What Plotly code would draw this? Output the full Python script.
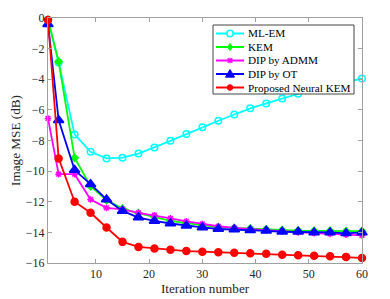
import plotly.graph_objects as go

iters = [1, 3, 6, 9, 12, 15, 18, 21, 24, 27, 30, 33, 36, 39, 42, 45, 48, 51, 54, 57, 60]

ml_em = [-0.13, -2.9, -7.6, -8.74, -9.17, -9.12, -8.85, -8.45, -8.02, -7.58, -7.13, -6.71, -6.3, -5.9,
         -5.58, -5.25, -4.95, -4.65, -4.4, -4.15, -3.95]
kem = [-0.1, -2.85, -9.13, -10.98, -11.9, -12.45, -12.75, -13.0, -13.25, -13.4, -13.55, -13.65, -13.7,
       -13.75, -13.8, -13.85, -13.88, -13.9, -13.9, -13.92, -13.92]
dip_admm = [-6.56, -10.2, -10.2, -11.85, -12.4, -12.5, -12.72, -12.88, -13.08, -13.28, -13.45, -13.6,
            -13.7, -13.8, -13.86, -13.92, -14.0, -14.05, -14.1, -14.15, -14.2]
dip_ot = [-0.4, -6.67, -9.93, -10.85, -11.85, -12.6, -13.03, -13.25, -13.42, -13.57, -13.68, -13.78,
          -13.81, -13.86, -13.9, -13.96, -13.96, -14.0, -14.0, -14.06, -14.0]
neural_kem = [-0.13, -9.17, -12.0, -12.72, -13.68, -14.62, -14.95, -15.05, -15.14, -15.22, -15.26, -15.3,
              -15.33, -15.36, -15.4, -15.46, -15.5, -15.53, -15.56, -15.6, -15.67]

series_names = ["ML-EM", "KEM", "DIP by ADMM", "DIP by OT", "Proposed Neural KEM"]
x_ticks = [10, 20, 30, 40, 50, 60]
y_ticks = [0, -2, -4, -6, -8, -10, -12, -14, -16]

colors = ["#00FFFF", "#00FF00", "#FF00FF", "#0000FF", "#FF0000"]
symbols = ["circle-open", "diamond", "asterisk-open", "triangle-up", "circle"]
sizes = [6.5, 5.5, 5.5, 9, 7]

# page body has an 8px margin; figure is sized to fill the rest of the 390x299 window
OFF = 8
W, H = 390 - OFF, 299 - OFF
ML, MR, MT, MB = 48 - OFF, 28, 18 - OFF, 36
PW, PH = W - ML - MR, H - MT - MB


def px(x):
    return (x - OFF - ML) / PW


def py(y):
    return 1 - (y - OFF - MT) / PH


fig = go.Figure()
for name, ys, c, s, sz in zip(series_names, [ml_em, kem, dip_admm, dip_ot, neural_kem], colors, symbols, sizes):
    fig.add_trace(go.Scatter(
        x=iters, y=ys, name=name, mode="lines+markers",
        line=dict(color=c, width=1.8),
        marker=dict(color=c, symbol=s, size=sz, line=dict(color=c, width=1.5)),
        cliponaxis=False, showlegend=False,
    ))

font_family = "Times New Roman, Liberation Serif, serif"

# compact MATLAB-style legend drawn as shapes + text
shapes = []
annotations = []
lx0, lx1, ly0, ly1 = 213, 354, 25, 94
shapes.append(dict(type="rect", xref="paper", yref="paper", x0=px(lx0), x1=px(lx1), y0=py(ly1), y1=py(ly0),
                   line=dict(color="#444444", width=1), fillcolor="white", layer="above"))
row_y = [33.5, 47, 60.5, 74, 87.5]
sx0, sx1, sc = 216, 244, 230
for name, c, s, yy in zip(series_names, colors, symbols, row_y):
    shapes.append(dict(type="line", xref="paper", yref="paper", x0=px(sx0), x1=px(sx1), y0=py(yy), y1=py(yy),
                       line=dict(color=c, width=2), layer="above"))
    if s == "circle-open":
        r = 3.2
        shapes.append(dict(type="circle", xref="paper", yref="paper", x0=px(sc - r), x1=px(sc + r),
                           y0=py(yy + r), y1=py(yy - r), line=dict(color=c, width=1.5), fillcolor="white",
                           layer="above"))
    elif s == "circle":
        r = 2.8
        shapes.append(dict(type="circle", xref="paper", yref="paper", x0=px(sc - r), x1=px(sc + r),
                           y0=py(yy + r), y1=py(yy - r), line=dict(color=c, width=1), fillcolor=c,
                           layer="above"))
    elif s == "diamond":
        d = 3.5
        path = "M {} {} L {} {} L {} {} L {} {} Z".format(px(sc), py(yy - d), px(sc + d * 0.7), py(yy),
                                                       px(sc), py(yy + d), px(sc - d * 0.7), py(yy))
        shapes.append(dict(type="path", xref="paper", yref="paper", path=path, line=dict(color=c, width=1),
                           fillcolor=c, layer="above"))
    elif s == "triangle-up":
        d = 4.5
        path = "M {} {} L {} {} L {} {} Z".format(px(sc), py(yy - d), px(sc + d), py(yy + d * 0.7),
                                               px(sc - d), py(yy + d * 0.7))
        shapes.append(dict(type="path", xref="paper", yref="paper", path=path, line=dict(color=c, width=1),
                           fillcolor=c, layer="above"))
    else:
        d = 2.3
        for ddx, ddy in [(d, d), (d, -d), (0, d * 1.2), (d * 1.2, 0)]:
            shapes.append(dict(type="line", xref="paper", yref="paper", x0=px(sc - ddx), x1=px(sc + ddx),
                               y0=py(yy - ddy), y1=py(yy + ddy), line=dict(color=c, width=1.3),
                               layer="above"))
    annotations.append(dict(xref="paper", yref="paper", x=px(246), y=py(yy), text=name, showarrow=False,
                            xanchor="left", yanchor="middle",
                            font=dict(family=font_family, size=11.2, color="#000000")))

fig.update_layout(
    width=W, height=H,
    margin=dict(l=ML, r=MR, t=MT, b=MB, autoexpand=False),
    paper_bgcolor="white", plot_bgcolor="white",
    font=dict(family=font_family, size=12, color="#262626"),
    showlegend=False,
    shapes=shapes, annotations=annotations,
    xaxis=dict(
        range=[1, 60], tickvals=x_ticks, ticks="inside", ticklen=4,
        showline=True, linecolor="#A0A0A0", linewidth=1, mirror="ticks",
        tickcolor="#A0A0A0", showgrid=False, zeroline=False, automargin=False,
        title=dict(text="Iteration number", standoff=2, font=dict(size=13.2)),
        tickfont=dict(size=12),
    ),
    yaxis=dict(
        range=[-16, 0], tickvals=y_ticks, ticks="inside", ticklen=4,
        showline=True, linecolor="#A0A0A0", linewidth=1, mirror="ticks",
        tickcolor="#A0A0A0", showgrid=False, zeroline=False, automargin=False,
        title=dict(text="Image MSE (dB)", standoff=2, font=dict(size=13.2)),
        tickfont=dict(size=12),
    ),
)

fig.write_html("out.html")
